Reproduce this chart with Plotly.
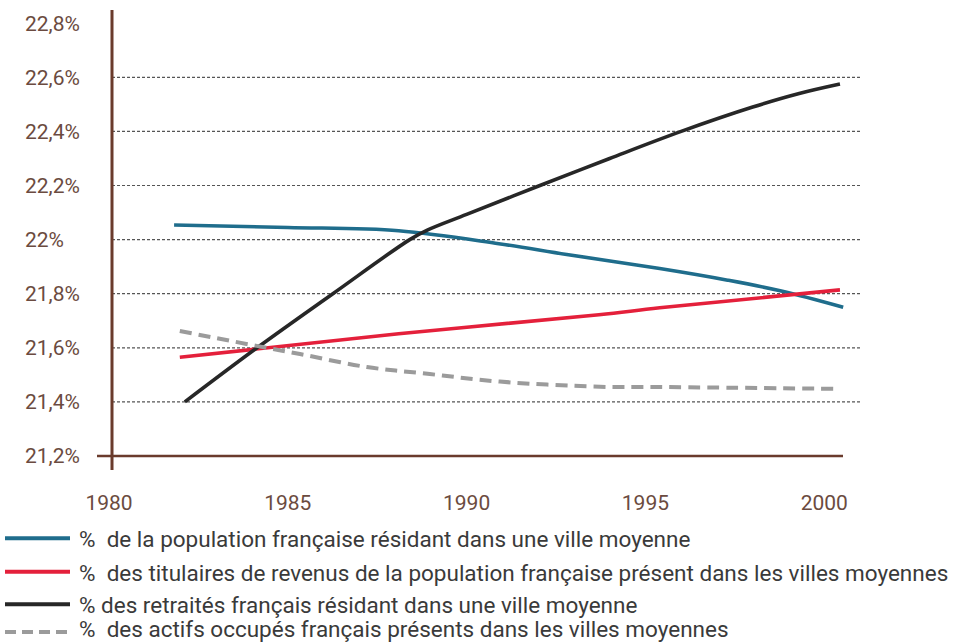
import plotly.graph_objects as go

# ---- data ----
blue_x = [1981.82, 1985.0, 1988.1, 1990.9, 1992.8, 1995.4, 1997.3, 1998.8, 2000.53]
blue_y = [22.054, 22.045, 22.033, 21.985, 21.945, 21.893, 21.85, 21.81, 21.75]

red_x = [1981.98, 1988.1, 1993.7, 1995.4, 2000.44]
red_y = [21.565, 21.652, 21.722, 21.748, 21.814]

black_x = [1982.12, 1984.14, 1986.26, 1988.41, 1988.9, 1990.0, 1992.05, 1994.0, 1996.0, 1998.0, 1999.3, 2000.44]
black_y = [21.40, 21.60, 21.80, 22.00, 22.035, 22.093, 22.20, 22.30, 22.40, 22.49, 22.54, 22.575]

grey_x = [1981.98, 1984.13, 1985.34, 1987.21, 1988.97, 1990.93, 1993.73, 1995.4, 2000.44]
grey_y = [21.662, 21.607, 21.577, 21.529, 21.503, 21.475, 21.456, 21.455, 21.448]

series_names = [
    "%\u00a0 de la population française résidant dans une ville moyenne",
    "%\u00a0 des titulaires de revenus de la population française présent dans les villes moyennes",
    "% des retraités français résidant dans une ville moyenne",
    "%\u00a0 des actifs occupés français présents dans les villes moyennes",
]
series_colors = ["#1f6d8c", "#e4203b", "#272727", "#9b9b9b"]

x_ticks = [1980, 1985, 1990, 1995, 2000]
y_ticks = [21.2, 21.4, 21.6, 21.8, 22.0, 22.2, 22.4, 22.6, 22.8]
y_ticktext = ["21,2%", "21,4%", "21,6%", "21,8%", "22%", "22,2%", "22,4%", "22,6%", "22,8%"]
grid_vals = [21.4, 21.6, 21.8, 22.0, 22.2, 22.4, 22.6]

# ---- layout geometry (pixels) ----
W, H = 953, 644
L, R, T, B = 24, 93, 10, 188
PW, PH = W - L - R, H - T - B


def px(xp):
    return (xp - L) / PW


def py(yp):
    return (H - B - yp) / PH


FONT = "Roboto"
BROWN = "#6a3b2c"
TICK_COL = "#6b4b40"
TEXT_COL = "#3a3a3a"

fig = go.Figure()
all_series = [(blue_x, blue_y), (red_x, red_y), (black_x, black_y), (grey_x, grey_y)]
for i, (xs, ys) in enumerate(all_series):
    fig.add_trace(go.Scatter(
        x=xs, y=ys, mode="lines", name=series_names[i], showlegend=False,
        line=dict(color=series_colors[i], width=3.6 if i < 3 else 4,
                  shape="spline", smoothing=1.0,
                  dash="solid" if i < 3 else "12px,7px"),
        hoverinfo="skip",
    ))

shapes = []
# dotted gridlines
for v in grid_vals:
    shapes.append(dict(type="line", xref="x domain", yref="y", x0=0.004, x1=1, y0=v, y1=v,
                       line=dict(color="#555555", width=1.2, dash="3px,2px"), layer="below"))
# axis lines (cross style)
shapes.append(dict(type="line", xref="paper", yref="paper", x0=px(112), x1=px(112),
                   y0=py(470), y1=py(10), line=dict(color=BROWN, width=3)))
shapes.append(dict(type="line", xref="paper", yref="paper", x0=px(97), x1=px(843),
                   y0=py(456), y1=py(456), line=dict(color=BROWN, width=2.6)))

# manual legend
row_line_y = [538.3, 571.7, 604.3, 632.0]
row_text_y = [539.3, 572.7, 605.3, 628.5]
annotations = []
for i in range(len(series_names)):
    shapes.append(dict(type="line", xref="paper", yref="paper", x0=px(5), x1=px(70),
                       y0=py(row_line_y[i]), y1=py(row_line_y[i]),
                       line=dict(color=series_colors[i], width=4,
                                 dash="solid" if i < 3 else "11px,6px")))
    annotations.append(dict(xref="paper", yref="paper", x=px(77), y=py(row_text_y[i]),
                            xanchor="left", yanchor="middle", showarrow=False,
                            text=series_names[i],
                            font=dict(family=FONT, size=22.5, color=TEXT_COL)))

x0_dom = (109 - L) / PW
fig.update_layout(
    width=W, height=H,
    margin=dict(l=L, r=R, t=T, b=B, pad=0, autoexpand=False),
    paper_bgcolor="white", plot_bgcolor="white",
    showlegend=False,
    shapes=shapes, annotations=annotations,
    xaxis=dict(domain=[x0_dom, 1], range=[1980, 2001], tickvals=x_ticks,
               ticktext=[str(v) for v in x_ticks], showgrid=False, zeroline=False,
               showline=False, ticks="", ticklabelstandoff=32, automargin=False,
               tickfont=dict(family=FONT, size=21, color=TICK_COL)),
    yaxis=dict(range=[21.2, 21.2 + PH / 54.1 * 0.2], tickvals=y_ticks, ticktext=y_ticktext,
               anchor="free", position=0, side="right", automargin=False,
               showgrid=False, zeroline=False, showline=False, ticks="",
               ticklabelstandoff=0,
               tickfont=dict(family=FONT, size=21, color=TICK_COL)),
)

fig.write_html("out.html", config={"displayModeBar": False},
               post_script="document.body.style.margin='0';")
